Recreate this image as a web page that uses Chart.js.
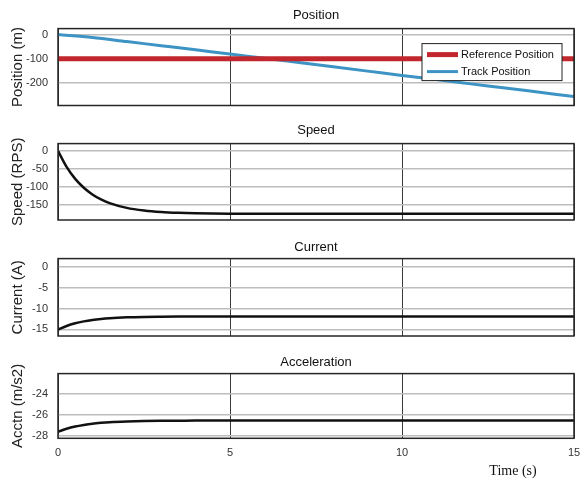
<!DOCTYPE html>
<html>
<head>
<meta charset="utf-8">
<script src="https://cdn.jsdelivr.net/npm/chart.js@4.4.1/dist/chart.umd.min.js"></script>
<style>
  body { margin: 0; background: #fff; }
  .band { position: absolute; left: 0; width: 582px; }
</style>
</head>
<body>
<div class="band" style="top:0;height:118px"><canvas id="posChart"></canvas></div>
<div class="band" style="top:118px;height:118px"><canvas id="speedChart"></canvas></div>
<div class="band" style="top:236px;height:114px"><canvas id="currentChart"></canvas></div>
<div class="band" style="top:350px;height:132px"><canvas id="accelChart"></canvas></div>
<script>
// values
const trackTime = [0, 1, 2, 3, 4, 5, 6, 7, 8, 9, 10, 11, 12, 13, 14, 15];
const trackPos = [0, -12, -29, -46, -63, -81, -98, -116, -134, -152, -170, -187, -205, -222, -240, -258];
const refTime = [0, 15];
const refPos = [-100, -100];

const fineTime = [0, 0.25, 0.5, 0.75, 1, 1.25, 1.5, 2, 2.5, 3, 3.5, 4, 5, 6, 8, 10, 12, 15];
const speedRps = [0, -44.6, -77.8, -102.5, -121, -134.8, -145, -158.4, -165.7, -169.9, -172.2, -173.4, -174.5, -175, -175, -175, -175, -175];
const currentA = [-15.1, -14.19, -13.54, -13.08, -12.74, -12.5, -12.33, -12.12, -12.01, -11.96, -11.93, -11.92, -11.9, -11.9, -11.9, -11.9, -11.9, -11.9];
const accelMs2 = [-27.58, -27.3, -27.09, -26.94, -26.82, -26.74, -26.68, -26.61, -26.57, -26.55, -26.54, -26.53, -26.52, -26.52, -26.52, -26.52, -26.52, -26.52];

const timeTicks = [0, 5, 10, 15];
const posTicks = [-200, -100, 0];
const speedTicks = [-150, -100, -50, 0];
const currentTicks = [-15, -10, -5, 0];
const accelTicks = [-28, -26, -24];

const FONT = '"Liberation Sans", Arial, sans-serif';
const pts = (xs, ys) => xs.map((x, i) => ({ x: x, y: ys[i] }));

const boxPlugin = {
  id: 'box',
  afterDatasetsDraw(chart) {
    const { ctx, chartArea: a } = chart;
    ctx.save();
    ctx.strokeStyle = '#262626';
    ctx.lineWidth = 1.5;
    ctx.strokeRect(a.left, a.top, a.right - a.left, a.bottom - a.top);
    ctx.restore();
  }
};

const boxLegend = {
  id: 'boxLegend',
  afterDraw(chart) {
    const { ctx, chartArea: a } = chart;
    const x0 = a.right - 152, y0 = a.top + 15, w = 140, h = 37;
    ctx.save();
    ctx.fillStyle = '#fff';
    ctx.fillRect(x0, y0, w, h);
    ctx.strokeStyle = '#222';
    ctx.lineWidth = 1;
    ctx.strokeRect(x0, y0, w, h);
    ctx.font = '11px ' + FONT;
    ctx.textBaseline = 'middle';
    chart.data.datasets.forEach((ds, i) => {
      const y = y0 + 11 + i * 17;
      ctx.strokeStyle = ds.borderColor;
      ctx.lineWidth = ds.borderWidth;
      ctx.beginPath();
      ctx.moveTo(x0 + 5, y);
      ctx.lineTo(x0 + 36, y);
      ctx.stroke();
      ctx.fillStyle = '#111';
      ctx.fillText(ds.label, x0 + 39, y);
    });
    ctx.restore();
  }
};

const timeLabel = {
  id: 'timeLabel',
  afterDraw(chart) {
    const { ctx, chartArea: a } = chart;
    ctx.save();
    ctx.font = '14px "Liberation Serif", "Times New Roman", serif';
    ctx.fillStyle = '#111';
    ctx.textAlign = 'center';
    ctx.textBaseline = 'middle';
    ctx.fillText('Time (s)', a.right - 61, a.bottom + 33);
    ctx.restore();
  }
};

function makeChart(id, opt) {
  return new Chart(document.getElementById(id), {
    type: 'line',
    data: { datasets: opt.datasets },
    options: {
      responsive: true,
      maintainAspectRatio: false,
      animation: false,
      layout: { padding: { left: 0, right: 8, top: 0, bottom: opt.bottom } },
      elements: { point: { radius: 0 }, line: { cubicInterpolationMode: 'monotone' } },
      plugins: {
        legend: { display: false },
        tooltip: { enabled: false },
        title: {
          display: true,
          text: opt.title,
          fullSize: false,
          color: '#111',
          font: { family: FONT, size: 13, weight: 'normal' },
          padding: { top: opt.titleTop, bottom: opt.titleBottom }
        }
      },
      scales: {
        x: {
          type: 'linear',
          min: 0,
          max: 15,
          afterBuildTicks: s => { s.ticks = timeTicks.map(v => ({ value: v })); },
          ticks: {
            display: opt.showX,
            padding: 1,
            color: '#333',
            maxRotation: 0,
            font: { family: FONT, size: 11 }
          },
          grid: { color: '#3a3a3a', lineWidth: 1, drawTicks: opt.showX, tickLength: 7, tickColor: 'rgba(0,0,0,0)' },
          border: { display: false }
        },
        y: {
          min: opt.min,
          max: opt.max,
          afterBuildTicks: s => { s.ticks = opt.ticks.map(v => ({ value: v })); },
          afterFit: s => { s.width = 58; },
          ticks: {
            padding: 2,
            color: '#333',
            font: { family: FONT, size: 11 }
          },
          grid: { color: '#bdbdbd', lineWidth: 1.5, drawTicks: true, tickLength: 8, tickColor: 'rgba(0,0,0,0)' },
          border: { display: false },
          title: {
            display: true,
            text: opt.yTitle,
            color: '#222',
            font: { family: FONT, size: 15 },
            padding: { top: 9, bottom: 0 }
          }
        }
      }
    },
    plugins: opt.plugins
  });
}

makeChart('posChart', {
  title: 'Position', yTitle: 'Position (m)',
  min: -295, max: 25, ticks: posTicks,
  titleTop: 8, titleBottom: 5, bottom: 12.5, showX: false,
  plugins: [boxPlugin, boxLegend],
  datasets: [
    { label: 'Reference Position', data: pts(refTime, refPos), borderColor: '#c1272d', borderWidth: 5 },
    { label: 'Track Position', data: pts(trackTime, trackPos), borderColor: '#3d94c4', borderWidth: 3, tension: 0 }
  ]
});

makeChart('speedChart', {
  title: 'Speed', yTitle: 'Speed (RPS)',
  min: -192, max: 20, ticks: speedTicks,
  titleTop: 5, titleBottom: 5, bottom: 16, showX: false,
  plugins: [boxPlugin],
  datasets: [
    { label: 'Speed', data: pts(fineTime, speedRps), borderColor: '#111', borderWidth: 2.5, tension: 0.4 }
  ]
});

makeChart('currentChart', {
  title: 'Current', yTitle: 'Current (A)',
  min: -16.6, max: 2, ticks: currentTicks,
  titleTop: 4, titleBottom: 3, bottom: 14, showX: false,
  plugins: [boxPlugin],
  datasets: [
    { label: 'Current', data: pts(fineTime, currentA), borderColor: '#111', borderWidth: 2.5, tension: 0.4 }
  ]
});

makeChart('accelChart', {
  title: 'Acceleration', yTitle: 'Acctn (m/s2)',
  min: -28.2, max: -22.1, ticks: accelTicks,
  titleTop: 5, titleBottom: 3, bottom: 21.5, showX: true,
  plugins: [boxPlugin, timeLabel],
  datasets: [
    { label: 'Acceleration', data: pts(fineTime, accelMs2), borderColor: '#111', borderWidth: 2.5, tension: 0.4 }
  ]
});
</script>
</body>
</html>
